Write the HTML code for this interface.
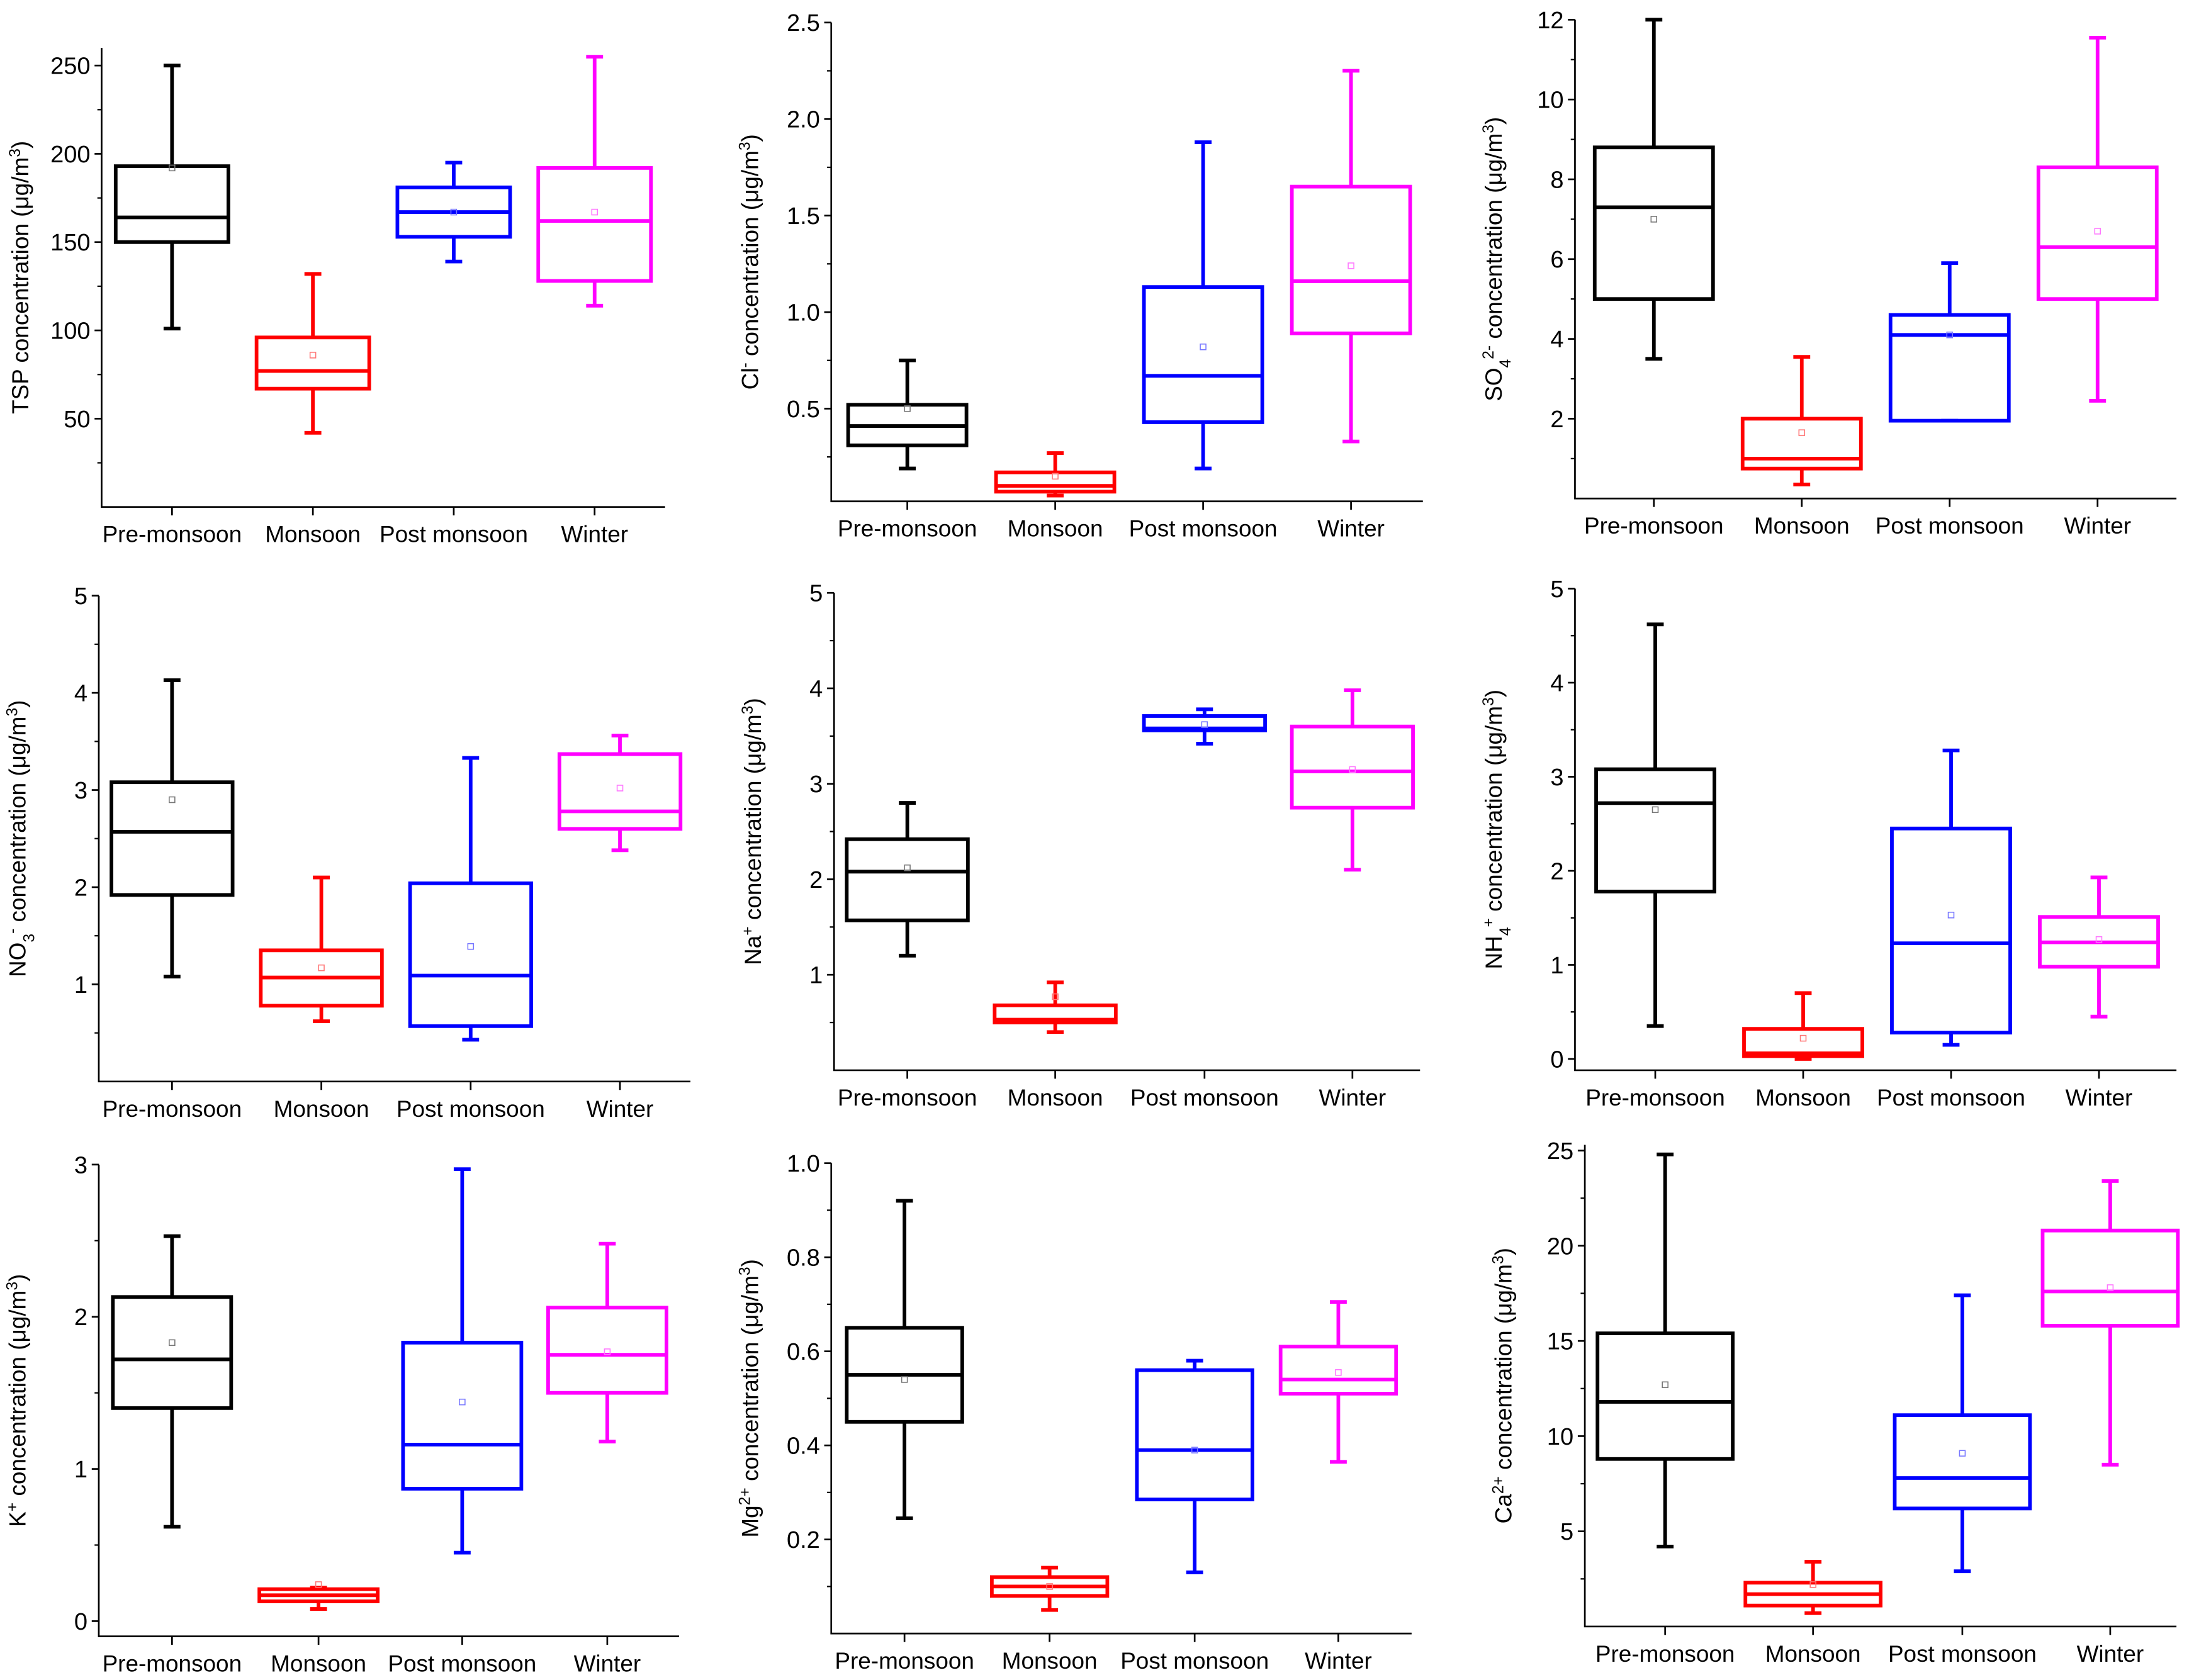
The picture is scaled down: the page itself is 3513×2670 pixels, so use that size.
<!DOCTYPE html>
<html><head><meta charset="utf-8"><style>
html,body{margin:0;padding:0;background:#fff;}
svg{display:block;}
text{font-family:"Liberation Sans",Arial,sans-serif;fill:#000;}
</style></head><body>
<svg id="chart" xmlns="http://www.w3.org/2000/svg" width="3513" height="2670" viewBox="0 0 1569.4 1193"></svg>
<script>
// ---- data (per panel, order: Pre-monsoon, Monsoon, Post monsoon, Winter) ----
const categories = ["Pre-monsoon", "Monsoon", "Post monsoon", "Winter"];
const panelNames = ["tsp", "cl", "so4", "no3", "na", "nh4", "k", "mg", "ca"];
const whiskerLow = [
  [101, 42, 139, 114],
  [0.19, 0.05, 0.19, 0.33],
  [3.5, 0.35, 1.95, 2.45],
  [1.08, 0.62, 0.43, 2.38],
  [1.2, 0.4, 3.42, 2.1],
  [0.35, 0.0, 0.15, 0.45],
  [0.62, 0.08, 0.45, 1.18],
  [0.245, 0.05, 0.13, 0.365],
  [4.2, 0.7, 2.9, 8.5]
];
const boxLow = [
  [150, 67, 153, 128],
  [0.31, 0.07, 0.43, 0.89],
  [5.0, 0.75, 1.95, 5.0],
  [1.92, 0.78, 0.57, 2.6],
  [1.57, 0.5, 3.56, 2.75],
  [1.78, 0.03, 0.28, 0.98],
  [1.4, 0.13, 0.87, 1.5],
  [0.45, 0.08, 0.285, 0.51],
  [8.8, 1.1, 6.2, 15.8]
];
const medians = [
  [164, 77, 167, 162],
  [0.41, 0.1, 0.67, 1.16],
  [7.3, 1.0, 4.1, 6.3],
  [2.57, 1.07, 1.09, 2.78],
  [2.08, 0.53, 3.58, 3.13],
  [2.72, 0.06, 1.23, 1.24],
  [1.72, 0.17, 1.16, 1.75],
  [0.55, 0.1, 0.39, 0.54],
  [11.8, 1.7, 7.8, 17.6]
];
const boxHigh = [
  [193, 96, 181, 192],
  [0.52, 0.17, 1.13, 1.65],
  [8.8, 2.0, 4.6, 8.3],
  [3.08, 1.35, 2.04, 3.37],
  [2.42, 0.68, 3.71, 3.6],
  [3.08, 0.32, 2.45, 1.51],
  [2.13, 0.21, 1.83, 2.06],
  [0.65, 0.12, 0.56, 0.61],
  [15.4, 2.3, 11.1, 20.8]
];
const whiskerHigh = [
  [250, 132, 195, 255],
  [0.75, 0.27, 1.88, 2.25],
  [12.0, 3.55, 5.9, 11.55],
  [4.13, 2.1, 3.33, 3.56],
  [2.8, 0.92, 3.78, 3.98],
  [4.62, 0.7, 3.28, 1.93],
  [2.53, 0.22, 2.97, 2.48],
  [0.92, 0.14, 0.58, 0.705],
  [24.8, 3.4, 17.4, 23.4]
];
const means = [
  [192, 86, 167, 167],
  [0.5, 0.15, 0.82, 1.24],
  [7.0, 1.65, 4.1, 6.7],
  [2.9, 1.17, 1.39, 3.02],
  [2.12, 0.77, 3.62, 3.15],
  [2.65, 0.22, 1.53, 1.27],
  [1.83, 0.24, 1.44, 1.77],
  [0.54, 0.1, 0.39, 0.555],
  [12.7, 2.2, 9.1, 17.8]
];
const yTickLabels = [
  ["50", "100", "150", "200", "250"],
  ["0.5", "1.0", "1.5", "2.0", "2.5"],
  ["2", "4", "6", "8", "10", "12"],
  ["1", "2", "3", "4", "5"],
  ["1", "2", "3", "4", "5"],
  ["0", "1", "2", "3", "4", "5"],
  ["0", "1", "2", "3"],
  ["0.2", "0.4", "0.6", "0.8", "1.0"],
  ["5", "10", "15", "20", "25"]
];
const yMin = [0, 0.02, 0, 0, 0, -0.12, -0.1, 0, 0];
const yMax = [260, 2.5, 12, 5, 5, 5, 3, 1, 25.3];

// ---- layout (not data) ----
const layout = [
  {l:72, r:472, t:34, b:360, cx:[122,222,322,422], hw:40},
  {l:590, r:1010, t:16, b:356, cx:[644,749,854,959], hw:42},
  {l:1118, r:1545, t:14, b:354, cx:[1174,1279,1384,1489], hw:42},
  {l:70, r:490, t:423, b:768, cx:[122,228,334,440], hw:43},
  {l:592, r:1008, t:421, b:760, cx:[644,749,855,960], hw:43},
  {l:1118, r:1545, t:418, b:760, cx:[1175,1280,1385,1490], hw:42},
  {l:70, r:482, t:827, b:1162, cx:[122,226,328,431], hw:42},
  {l:590, r:1002, t:826, b:1160, cx:[642,745,848,950], hw:41},
  {l:1125, r:1545, t:813, b:1155, cx:[1182,1287,1393,1498], hw:48}
];
const colors = ["#000000", "#ff0000", "#0000ff", "#ff00ff"];
const meanColors = ["#777777", "#ff7777", "#7777ff", "#ff77ff"];
const titles = [
  [["TSP concentration (μg/m",""],["3","sup"],[")",""]],
  [["Cl",""],["-","sup"],[" concentration (μg/m",""],["3","sup"],[")",""]],
  [["SO",""],["4","sub"],["2-","sup"],[" concentration (μg/m",""],["3","sup"],[")",""]],
  [["NO",""],["3","sub"],["-","sup"],[" concentration (μg/m",""],["3","sup"],[")",""]],
  [["Na",""],["+","sup"],[" concentration (μg/m",""],["3","sup"],[")",""]],
  [["NH",""],["4","sub"],["+","sup"],[" concentration (μg/m",""],["3","sup"],[")",""]],
  [["K",""],["+","sup"],[" concentration (μg/m",""],["3","sup"],[")",""]],
  [["Mg",""],["2+","sup"],[" concentration (μg/m",""],["3","sup"],[")",""]],
  [["Ca",""],["2+","sup"],[" concentration (μg/m",""],["3","sup"],[")",""]]
];

const NS = "http://www.w3.org/2000/svg";
const svg = document.getElementById("chart");
function mk(tag, attrs, parent) {
  const e = document.createElementNS(NS, tag);
  for (const k in attrs) e.setAttribute(k, attrs[k]);
  parent.appendChild(e);
  return e;
}

panelNames.forEach((pn, p) => {
  const L = layout[p];
  const y = v => L.b - (v - yMin[p]) / (yMax[p] - yMin[p]) * (L.b - L.t);
  const g = mk("g", {}, svg);
  
  

  const ax = mk("path", {d:`M${L.l},${L.t}V${L.b}H${L.r}`, fill:"none", stroke:"#000", "stroke-width":1.2}, g);
  
  

  const vals = yTickLabels[p].map(Number);
  const step = vals[1] - vals[0];
  vals.forEach((v, i) => {
    const yy = y(v);
    mk("line", {x1:L.l-5, x2:L.l, y1:yy, y2:yy, stroke:"#000", "stroke-width":1.2}, g);
    const t = mk("text", {x:L.l-8, y:yy+6, "text-anchor":"end", "font-size":17}, g);
    t.textContent = yTickLabels[p][i];
    
    
  });
  for (let v = vals[0] - step / 2; v <= yMax[p] + 1e-9; v += step) {
    if (v < yMin[p]) continue;
    const yy = y(v);
    mk("line", {x1:L.l-3, x2:L.l, y1:yy, y2:yy, stroke:"#000", "stroke-width":1}, g);
  }

  const tx = L.l - 52, ty = (L.t + L.b) / 2;
  const title = mk("text", {x:0, y:0, "text-anchor":"middle", "font-size":16.5, transform:`translate(${tx},${ty}) rotate(-90)`}, g);
  
  
  titles[p].forEach(([s, kind]) => {
    const ts = mk("tspan", {}, title);
    if (kind === "sup") { ts.setAttribute("baseline-shift", "super"); ts.setAttribute("font-size", 11); }
    if (kind === "sub") { ts.setAttribute("baseline-shift", "sub"); ts.setAttribute("font-size", 11); }
    ts.textContent = s;
  });

  categories.forEach((c, i) => {
    const cx = L.cx[i];
    mk("line", {x1:cx, x2:cx, y1:L.b, y2:L.b+6, stroke:"#000", "stroke-width":1.2}, g);
    const t = mk("text", {x:cx, y:L.b+25, "text-anchor":"middle", "font-size":16.5}, g);
    t.textContent = c;
    
    

    const col = colors[i];
    const bg = mk("g", {stroke:col, "stroke-width":2.6, fill:"none"}, g);
    
    
    const hw = L.hw, cap = 6;
    mk("line", {x1:cx, x2:cx, y1:y(whiskerHigh[p][i]), y2:y(boxHigh[p][i])}, bg);
    mk("line", {x1:cx, x2:cx, y1:y(boxLow[p][i]), y2:y(whiskerLow[p][i])}, bg);
    mk("line", {x1:cx-cap, x2:cx+cap, y1:y(whiskerHigh[p][i]), y2:y(whiskerHigh[p][i])}, bg);
    mk("line", {x1:cx-cap, x2:cx+cap, y1:y(whiskerLow[p][i]), y2:y(whiskerLow[p][i])}, bg);
    mk("rect", {x:cx-hw, y:y(boxHigh[p][i]), width:2*hw, height:y(boxLow[p][i]) - y(boxHigh[p][i])}, bg);
    mk("line", {x1:cx-hw, x2:cx+hw, y1:y(medians[p][i]), y2:y(medians[p][i])}, bg);
    const m = mk("rect", {x:cx-2, y:y(means[p][i])-2, width:4, height:4, stroke:meanColors[i], "stroke-width":0.7, fill:"none"}, g);
    
    
  });
});
</script>
</body></html>
